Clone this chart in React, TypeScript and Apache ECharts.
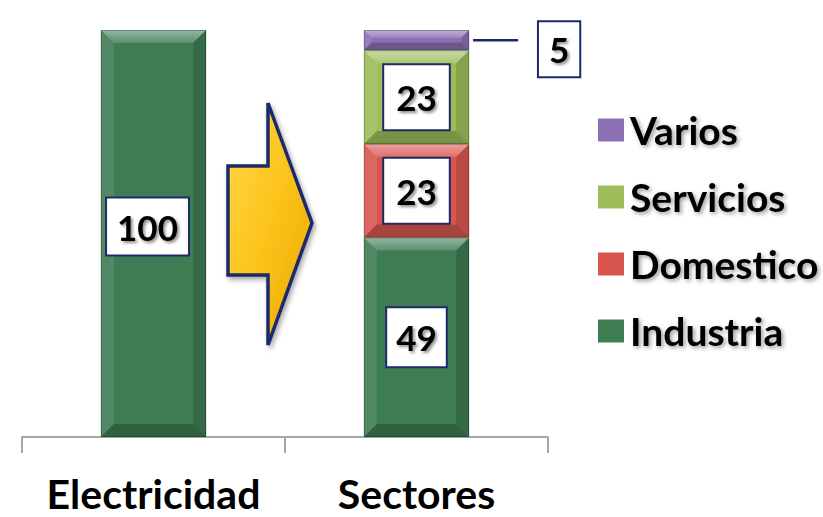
import React, { useEffect, useRef } from 'react';
import * as echarts from 'echarts';

const categories = ['Electricidad', 'Sectores'];
const electricidadValues: (number | null)[] = [100, null];
const industriaValues: (number | null)[] = [null, 49];
const domesticoValues: (number | null)[] = [null, 23];
const serviciosValues: (number | null)[] = [null, 23];
const variosValues: (number | null)[] = [null, 5];
const legendNames = ['Varios', 'Servicios', 'Domestico', 'Industria'];
const yMin = 0;
const yMax = 100;

const stackOrder = [
  { name: 'Electricidad', values: electricidadValues },
  { name: 'Industria', values: industriaValues },
  { name: 'Domestico', values: domesticoValues },
  { name: 'Servicios', values: serviciosValues },
  { name: 'Varios', values: variosValues },
];

const colors: Record<string, string> = {
  Electricidad: '#3e7c53',
  Industria: '#3e7c53',
  Domestico: '#d9564f',
  Servicios: '#9dbd5a',
  Varios: '#8c71b4',
};

const labelPadding: Record<string, number[]> = {
  Electricidad: [10, 10],
  Industria: [11, 9],
  Domestico: [14, 12],
  Servicios: [14, 12],
  Varios: [9, 10],
};

const labelShift: Record<string, number[]> = {
  Electricidad: [-6, -7],
  Industria: [0, 0],
  Domestico: [0, 0],
  Servicios: [0, 0],
  Varios: [0, 0],
};

const NAVY = '#1c2a6a';
const LABEL_FONT = 'bold 35px Lato, "Open Sans", sans-serif';

function buildStacks() {
  const bases = categories.map(() => 0);
  return stackOrder.map((s) => {
    const data: number[][] = [];
    s.values.forEach((v, i) => {
      if (v == null) return;
      const start = bases[i];
      const end = start + v;
      bases[i] = end;
      data.push([i, start, end, v]);
    });
    return { name: s.name, data };
  });
}

function labelEl(text: string, x: number, y: number, pad: number[]) {
  return {
    type: 'text',
    x,
    y,
    z2: 20,
    style: {
      text,
      font: LABEL_FONT,
      fill: '#000',
      align: 'center',
      verticalAlign: 'middle',
      lineHeight: 36,
      backgroundColor: '#ffffff',
      borderColor: NAVY,
      borderWidth: 2,
      padding: pad,
      textShadowColor: 'rgba(0,0,0,0.45)',
      textShadowBlur: 3,
      textShadowOffsetX: 2,
      textShadowOffsetY: 2,
    },
  };
}

function makeRender(name: string) {
  return (params: any, api: any) => {
    const cat = api.value(0);
    const start = api.value(1);
    const end = api.value(2);
    const val = api.value(3);
    const pb = api.coord([cat, start]);
    const pt = api.coord([cat, end]);
    const band = api.size([1, 0])[0];
    const w = band * 0.4;
    const cx = pb[0];
    const x0 = cx - w / 2;
    const x1 = cx + w / 2;
    const yb = pb[1];
    const yt = pt[1];
    const h = yb - yt;
    const b = Math.min(13, h * 0.38);
    const color = colors[name];
    const children: any[] = [
      { type: 'rect', shape: { x: x0, y: yt, width: w, height: h }, style: { fill: color } },
      {
        type: 'polygon',
        shape: { points: [[x0, yt], [x1, yt], [x1 - b, yt + b], [x0 + b, yt + b]] },
        style: {
          fill: {
            type: 'linear', x: 0, y: 0, x2: 0, y2: 1,
            colorStops: [
              { offset: 0, color: 'rgba(255,255,255,0.45)' },
              { offset: 1, color: 'rgba(255,255,255,0.15)' },
            ],
          },
        },
      },
      {
        type: 'polygon',
        shape: { points: [[x0, yt], [x0 + b, yt + b], [x0 + b, yb - b], [x0, yb]] },
        style: { fill: 'rgba(255,255,255,0.10)' },
      },
      {
        type: 'polygon',
        shape: { points: [[x1, yt], [x1, yb], [x1 - b, yb - b], [x1 - b, yt + b]] },
        style: { fill: 'rgba(0,0,0,0.14)' },
      },
      {
        type: 'polygon',
        shape: { points: [[x0, yb], [x1, yb], [x1 - b, yb - b], [x0 + b, yb - b]] },
        style: { fill: 'rgba(0,0,0,0.22)' },
      },
      {
        type: 'rect',
        shape: { x: x0 + 0.5, y: yt + 0.5, width: w - 1, height: h - 1 },
        style: { fill: 'none', stroke: 'rgba(0,0,0,0.25)', lineWidth: 1 },
      },
    ];
    const cy = (yt + yb) / 2;
    const pad = labelPadding[name];
    const sh = labelShift[name];
    if (name === 'Varios') {
      children.push({
        type: 'line',
        shape: { x1: x1 + 4, y1: cy, x2: x1 + 49, y2: cy },
        style: { stroke: NAVY, lineWidth: 2.5 },
      });
      children.push(labelEl(String(val), x1 + 90, cy + 9, pad));
    } else {
      children.push(labelEl(String(val), cx + sh[0], cy + sh[1], pad));
    }
    return { type: 'group', children };
  };
}

export default function App() {
  const ref = useRef<HTMLDivElement>(null);
  useEffect(() => {
    if (!ref.current) return;
    const chart = echarts.init(ref.current, null, { renderer: 'svg' });
    const stacks = buildStacks();
    const option: any = {
      animation: false,
      backgroundColor: '#ffffff',
      grid: { left: 22, right: 275, top: 30, bottom: 80, containLabel: false },
      legend: {
        data: legendNames,
        orient: 'vertical',
        left: 593,
        top: 105,
        icon: 'rect',
        itemWidth: 26,
        itemHeight: 23,
        itemGap: 27,
        textStyle: {
          fontFamily: 'Lato, "Open Sans", sans-serif',
          fontWeight: 'bold',
          fontSize: 39,
          lineHeight: 40,
          color: '#000',
          padding: [0, 0, 0, 1],
          textShadowColor: 'rgba(0,0,0,0.4)',
          textShadowBlur: 4,
          textShadowOffsetX: 2,
          textShadowOffsetY: 2,
        },
      },
      xAxis: {
        type: 'category',
        data: categories,
        axisLine: { show: true, lineStyle: { color: '#a6a6a6', width: 2 } },
        axisTick: { show: true, interval: 0, length: 16, lineStyle: { color: '#a6a6a6', width: 2 } },
        axisLabel: {
          interval: 0,
          fontFamily: 'Lato, "Open Sans", sans-serif',
          fontWeight: 'bold',
          fontSize: 41,
          lineHeight: 38,
          color: '#000',
          margin: 37,
        },
      },
      yAxis: { type: 'value', min: yMin, max: yMax, show: false, splitLine: { show: false } },
      graphic: [
        {
          type: 'polygon',
          z: 10,
          shape: {
            points: [
              [228, 166], [268, 166], [268, 103], [312, 223], [268, 345], [268, 275], [228, 275],
            ],
          },
          style: {
            fill: {
              type: 'linear', x: 0, y: 0, x2: 1, y2: 1,
              colorStops: [
                { offset: 0, color: '#ffd94a' },
                { offset: 0.5, color: '#fcc31a' },
                { offset: 1, color: '#eaa800' },
              ],
            },
            stroke: NAVY,
            lineWidth: 3.5,
            lineJoin: 'miter',
            shadowColor: 'rgba(0,0,0,0.35)',
            shadowBlur: 5,
            shadowOffsetX: 2,
            shadowOffsetY: 3,
          },
        },
      ],
      series: stacks.map((s) => ({
        type: 'custom',
        name: s.name,
        data: s.data,
        encode: { x: 0, y: [1, 2] },
        itemStyle: { color: colors[s.name] },
        renderItem: makeRender(s.name),
        z: 2,
      })),
    };
    chart.setOption(option);
    return () => chart.dispose();
  }, []);
  return (
    <div
      ref={ref}
      style={{ position: 'absolute', left: 0, top: 0, width: 823, height: 517, background: '#fff' }}
    />
  );
}
